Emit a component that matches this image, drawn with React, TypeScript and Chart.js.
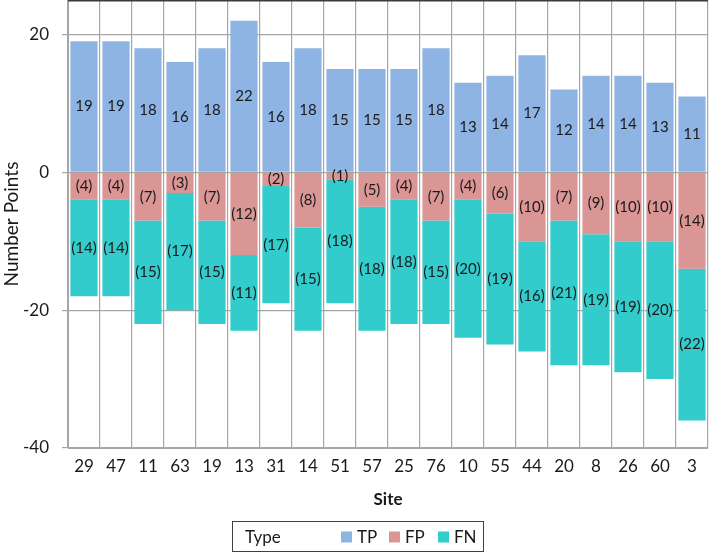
import React, { useEffect, useRef } from "react";
import { Chart, registerables } from "chart.js";

Chart.register(...registerables);

const sites = ["29","47","11","63","19","13","31","14","51","57","25","76","10","55","44","20","8","26","60","3"];
const tpValues = [19,19,18,16,18,22,16,18,15,15,15,18,13,14,17,12,14,14,13,11];
const fpValues = [4,4,7,3,7,12,2,8,1,5,4,7,4,6,10,7,9,10,10,14];
const fnValues = [14,14,15,17,15,11,17,15,18,18,18,15,20,19,16,21,19,19,20,22];
const yTicks = [-40, -20, 0, 20];

const seriesNames = ["TP", "FP", "FN"];
const seriesColors = ["#8EB4E3", "#DA9694", "#33CCCC"];
const FONT = "Lato, 'Open Sans', sans-serif";

const labelPlugin = {
  id: "barLabels",
  afterDatasetsDraw(chart: any) {
    const ctx = chart.ctx;
    ctx.save();
    ctx.font = `15px ${FONT}`;
    ctx.fillStyle = "#1a1a1a";
    ctx.textAlign = "center";
    ctx.textBaseline = "middle";
    const raw = [tpValues, fpValues, fnValues];
    chart.data.datasets.forEach((ds: any, di: number) => {
      const meta = chart.getDatasetMeta(di);
      meta.data.forEach((el: any, i: number) => {
        const p = el.getCenterPoint();
        const v = raw[di][i];
        const txt = di === 0 ? String(v) : `(${v})`;
        ctx.fillText(txt, p.x, p.y);
      });
    });
    ctx.restore();
  },
};

const framePlugin = {
  id: "frameAndLegend",
  afterDraw(chart: any) {
    const ctx = chart.ctx;
    const { left, right, top } = chart.chartArea;
    ctx.save();
    ctx.strokeStyle = "#3a3a3a";
    ctx.lineWidth = 1.5;
    ctx.beginPath();
    ctx.moveTo(left, top + 0.75);
    ctx.lineTo(right, top + 0.75);
    ctx.stroke();

    // legend
    const boxL = 232.5, boxT = 521.5, boxW = 251, boxH = 30;
    ctx.strokeStyle = "#404040";
    ctx.lineWidth = 1;
    ctx.strokeRect(boxL, boxT, boxW, boxH);
    ctx.font = `17px ${FONT}`;
    ctx.fillStyle = "#1a1a1a";
    ctx.textBaseline = "middle";
    ctx.textAlign = "left";
    const cy = boxT + boxH / 2 + 1;
    ctx.fillText("Type", 245, cy);
    const sq = [341, 389, 438];
    chart.data.datasets.forEach((ds: any, i: number) => {
      ctx.fillStyle = ds.backgroundColor;
      ctx.fillRect(sq[i], cy - 6, 11, 11);
      ctx.fillStyle = "#1a1a1a";
      ctx.fillText(ds.label, sq[i] + 16, cy);
    });
    ctx.restore();
  },
};

export default function App() {
  const ref = useRef<HTMLCanvasElement>(null);
  useEffect(() => {
    if (!ref.current) return;
    const gridColor = "#a6a6a6";
    const chart = new Chart(ref.current, {
      type: "bar",
      data: {
        labels: sites,
        datasets: [
          { label: seriesNames[0], data: tpValues, backgroundColor: seriesColors[0] },
          { label: seriesNames[1], data: fpValues.map((v) => -v), backgroundColor: seriesColors[1] },
          { label: seriesNames[2], data: fnValues.map((v) => -v), backgroundColor: seriesColors[2] },
        ],
      },
      options: {
        responsive: false,
        animation: false,
        datasets: { bar: { barPercentage: 0.85, categoryPercentage: 1 } },
        layout: { padding: { left: 0, right: 1, top: 0, bottom: 41 } },
        plugins: { legend: { display: false }, tooltip: { enabled: false } },
        scales: {
          x: {
            stacked: true,
            grid: { color: gridColor, drawTicks: false, offset: true, lineWidth: 1.2 },
            border: { color: gridColor },
            ticks: { font: { family: FONT, size: 17 }, color: "#1a1a1a", padding: 8, maxRotation: 0, autoSkip: false },
            title: { display: true, text: "Site", font: { family: FONT, size: 17, weight: "bold" }, color: "#1a1a1a", padding: { top: 0, bottom: 3 } },
            afterFit: (s: any) => { s.height = 65; s.paddingLeft = 0; s.paddingRight = 0; },
          },
          y: {
            stacked: true,
            min: -40,
            max: 25,
            afterBuildTicks: (s: any) => { s.ticks = yTicks.map((v) => ({ value: v })); },
            grid: { color: gridColor, tickLength: 6, lineWidth: 1.2 },
            border: { color: gridColor },
            ticks: { font: { family: FONT, size: 17 }, color: "#1a1a1a", padding: 13 },
            title: { display: true, text: "Number Points", font: { family: FONT, size: 19 }, color: "#1a1a1a", padding: { top: 0, bottom: 0 } },
            afterFit: (s: any) => { s.width = 68; s.paddingTop = 0; s.paddingBottom = 0; },
          },
        },
      },
      plugins: [labelPlugin, framePlugin],
    });
    return () => chart.destroy();
  }, []);
  return (
    <div style={{ position: "fixed", left: 0, top: 0, width: 709, height: 554, background: "#fff" }}>
      <canvas ref={ref} width={709} height={554} />
    </div>
  );
}
